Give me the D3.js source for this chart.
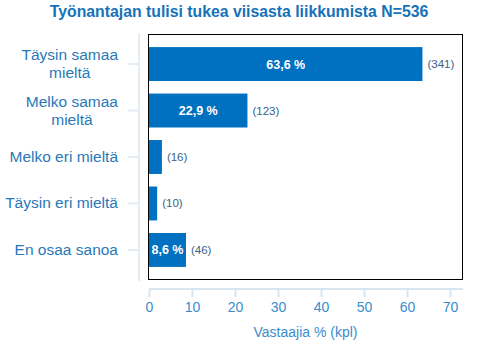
<!DOCTYPE html>
<html>
<head>
<meta charset="utf-8">
<script src="https://cdn.jsdelivr.net/npm/d3@7"></script>
<style>
  body { margin: 0; background: #fff; }
  svg { display: block; font-family: "Liberation Sans", Arial, sans-serif; }
</style>
</head>
<body>
<script>
var w = 480;
var h = 351;

// data
var categories = [["Täysin samaa", "mieltä"], ["Melko samaa", "mieltä"], ["Melko eri mieltä"], ["Täysin eri mieltä"], ["En osaa sanoa"]];
var percents = [63.6, 22.9, 3.0, 1.9, 8.6];
var counts = [341, 123, 16, 10, 46];
var insideLabels = ["63,6 %", "22,9 %", "", "", "8,6 %"];
var xTicks = [0, 10, 20, 30, 40, 50, 60, 70];
var title = "Työnantajan tulisi tukea viisasta liikkumista N=536";
var xTitle = "Vastaajia % (kpl)";

var plot = { left: 149, right: 462, top: 35, bottom: 279 };

var dataset = categories.map(function(c, i) {
    return { key: i, lines: c, pct: percents[i], n: counts[i], label: insideLabels[i] };
});

var svg = d3.select("body").append("svg")
    .attr("width", w)
    .attr("height", h);

// title
svg.append("text")
    .attr("x", 239)
    .attr("y", 16.5)
    .attr("text-anchor", "middle")
    .attr("font-size", "15.8px")
    .attr("font-weight", "bold")
    .attr("fill", "#1672b8")
    .text(title);

var xScale = d3.scaleLinear()
    .domain([0, 72.8])
    .range([plot.left, plot.right]);

var yScale = d3.scaleBand()
    .domain(dataset.map(function(d) { return d.key; }))
    .range([plot.top, plot.bottom])
    .paddingInner(0.27)
    .paddingOuter(0.26);

// left axis (detached light line with ticks)
var yAxis = svg.append("g")
    .attr("transform", "translate(139,0)")
    .call(d3.axisLeft(yScale).tickSize(11).tickFormat(""));
yAxis.select(".domain")
    .attr("d", "M0," + (plot.top - 2) + "V" + (plot.bottom + 2))
    .attr("stroke", "#e4ecf4")
    .attr("stroke-width", 2);
yAxis.selectAll(".tick line").attr("stroke", "#e4ecf4").attr("stroke-width", 2);

// category labels
svg.selectAll(".cat")
    .data(dataset)
    .enter().append("text")
    .attr("class", "cat")
    .attr("font-size", "15.5px")
    .attr("fill", "#2a78b8")
    .each(function(d) {
        var t = d3.select(this);
        var cy = yScale(d.key) + yScale.bandwidth() / 2;
        var lineH = 18;
        var y0 = cy - (d.lines.length - 1) * lineH / 2 + 5;
        d.lines.forEach(function(s, i) {
            t.append("tspan").attr("y", y0 + i * lineH).text(s);
        });
        // centre the lines in a block whose right edge sits at x=118
        var maxW = 0;
        t.selectAll("tspan").each(function() {
            maxW = Math.max(maxW, this.getComputedTextLength());
        });
        t.attr("text-anchor", "middle");
        t.selectAll("tspan").attr("x", 118 - maxW / 2);
    });

// frame
svg.append("rect")
    .attr("x", plot.left - 0.5)
    .attr("y", plot.top - 0.5)
    .attr("width", plot.right - plot.left + 1)
    .attr("height", plot.bottom - plot.top + 1)
    .attr("fill", "none")
    .attr("stroke", "#000")
    .attr("stroke-width", 1);

// bars
svg.selectAll(".bar")
    .data(dataset)
    .enter().append("rect")
    .attr("class", "bar")
    .attr("x", xScale(0))
    .attr("y", function(d) { return yScale(d.key); })
    .attr("width", function(d) { return xScale(d.pct) - xScale(0); })
    .attr("height", yScale.bandwidth())
    .attr("fill", "#0070c0");

// percent labels inside bars
svg.selectAll(".pl")
    .data(dataset.filter(function(d) { return d.label; }))
    .enter().append("text")
    .attr("class", "pl")
    .attr("x", function(d) { return (xScale(0) + xScale(d.pct)) / 2; })
    .attr("y", function(d) { return yScale(d.key) + yScale.bandwidth() / 2 + 4.5; })
    .attr("text-anchor", "middle")
    .attr("font-size", "12.5px")
    .attr("font-weight", "bold")
    .attr("fill", "#fff")
    .text(function(d) { return d.label; });

// counts to the right
svg.selectAll(".cnt")
    .data(dataset)
    .enter().append("text")
    .attr("class", "cnt")
    .attr("x", function(d) { return xScale(d.pct) + 5; })
    .attr("y", function(d) { return yScale(d.key) + yScale.bandwidth() / 2 + 4; })
    .attr("font-size", "11.5px")
    .attr("fill", "#3a5f86")
    .text(function(d) { return "(" + d.n + ")"; });

// bottom axis (detached)
var xAxis = svg.append("g")
    .attr("transform", "translate(0,289)")
    .call(d3.axisBottom(xScale).tickValues(xTicks).tickSize(8).tickPadding(5));
xAxis.select(".domain")
    .attr("d", "M" + plot.left + ",0H" + (plot.right + 1))
    .attr("stroke", "#d8e6f2")
    .attr("stroke-width", 2);
xAxis.selectAll(".tick line").attr("stroke", "#d8e6f2").attr("stroke-width", 2);
xAxis.selectAll(".tick text")
    .attr("font-family", "Liberation Sans, Arial, sans-serif")
    .attr("font-size", "14px")
    .attr("fill", "#3a8ccc");

svg.append("text")
    .attr("x", (plot.left + plot.right) / 2)
    .attr("y", 337)
    .attr("text-anchor", "middle")
    .attr("font-size", "14px")
    .attr("fill", "#3a8ccc")
    .text(xTitle);
</script>
</body>
</html>
